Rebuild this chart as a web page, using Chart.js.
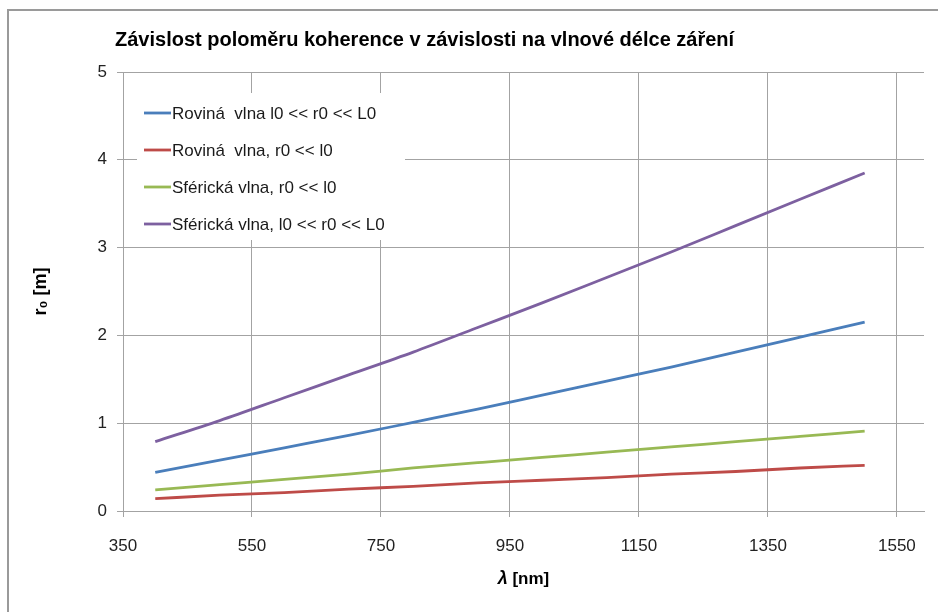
<!DOCTYPE html>
<html>
<head>
<meta charset="utf-8">
<script src="https://cdn.jsdelivr.net/npm/chart.js@4.4.1/dist/chart.umd.min.js"></script>
<style>
  html, body { margin: 0; padding: 0; background: #fff; }
  #wrap { position: relative; width: 938px; height: 612px; overflow: hidden; }
  #frame { position: absolute; left: 7px; top: 9px; width: 940px; height: 620px; border-left: 2px solid #9a9a9a; border-top: 2px solid #9a9a9a; }
  #title { position: absolute; left: 115px; top: 28px; font: bold 20px "Liberation Sans", Arial, sans-serif; color: #000; white-space: nowrap; }
  canvas { position: absolute; left: 0; top: 0; }
</style>
</head>
<body>
<div id="wrap">
  <div id="frame"></div>
  <canvas id="c" width="938" height="612"></canvas>
  <div id="title">Závislost poloměru koherence v závislosti na vlnové délce záření</div>
</div>
<script>
// vlnove delky [nm]
var lambdas = [400, 500, 600, 700, 800, 900, 1000, 1100, 1200, 1300, 1400, 1500];
// polomer koherence r0 [m]
var rovinaTurb = [0.44, 0.58, 0.72, 0.86, 1.01, 1.16, 1.32, 1.48, 1.64, 1.81, 1.98, 2.15];
var rovinaMala = [0.14, 0.18, 0.21, 0.25, 0.28, 0.32, 0.35, 0.38, 0.42, 0.45, 0.49, 0.52];
var sferMala = [0.24, 0.30, 0.36, 0.42, 0.49, 0.55, 0.61, 0.67, 0.73, 0.79, 0.85, 0.91];
var sferTurb = [0.79, 1.03, 1.29, 1.55, 1.81, 2.09, 2.37, 2.66, 2.95, 3.25, 3.55, 3.85];

var seriesNames = ['Roviná  vlna l0 << r0 << L0', 'Roviná  vlna, r0 << l0', 'Sférická vlna, r0 << l0', 'Sférická vlna, l0 << r0 << L0'];
var seriesColors = ['#4a7ebb', '#be4b48', '#98b954', '#7d60a0'];
var xTicks = [350, 550, 750, 950, 1150, 1350, 1550];
var yTicks = [0, 1, 2, 3, 4, 5];

var font = '"Liberation Sans", Arial, sans-serif';
var gridCol = '#a3a3a3';

function pts(ys) {
  return ys.map(function (y, i) { return { x: lambdas[i], y: y }; });
}

var allSeries = [rovinaTurb, rovinaMala, sferMala, sferTurb];
var datasets = allSeries.map(function (s, i) {
  return {
    label: seriesNames[i],
    data: pts(s),
    borderColor: seriesColors[i],
    backgroundColor: seriesColors[i],
    borderWidth: 2.8,
    pointRadius: 0,
    cubicInterpolationMode: 'monotone',
    fill: false
  };
});

// legenda uvnitr grafu (jako v Excelu) + popis osy x s kurzivou lambda
var extras = {
  id: 'extras',
  afterDraw: function (chart) {
    var ctx = chart.ctx, a = chart.chartArea;
    var x0 = a.left + 14, y0 = a.top + 21;
    ctx.save();
    ctx.fillStyle = '#fff';
    ctx.fillRect(x0, y0, 268, 147);
    ctx.font = '17px ' + font;
    ctx.textBaseline = 'middle';
    chart.data.datasets.forEach(function (d, i) {
      var y = y0 + 20 + i * 37;
      ctx.strokeStyle = d.borderColor;
      ctx.lineWidth = 2.8;
      ctx.beginPath();
      ctx.moveTo(x0 + 7, y);
      ctx.lineTo(x0 + 34, y);
      ctx.stroke();
      ctx.fillStyle = '#1a1a1a';
      ctx.fillText(d.label, x0 + 35, y + 1);
    });

    // λ [nm]
    var lam = 'λ', rest = ' [nm]';
    ctx.fillStyle = '#000';
    ctx.textBaseline = 'middle';
    ctx.font = 'italic bold 18px ' + font;
    var w1 = ctx.measureText(lam).width;
    ctx.font = 'bold 17px ' + font;
    var w2 = ctx.measureText(rest).width;
    var cx = (a.left + a.right) / 2 - (w1 + w2) / 2;
    var cy = 579;
    ctx.font = 'italic bold 18px ' + font;
    ctx.fillText(lam, cx, cy);
    ctx.font = 'bold 17px ' + font;
    ctx.fillText(rest, cx + w1, cy);
    ctx.restore();
  }
};

new Chart(document.getElementById('c'), {
  type: 'line',
  data: { datasets: datasets },
  plugins: [extras],
  options: {
    responsive: false,
    animation: false,
    layout: { padding: { left: 30, right: 14, top: 72, bottom: 22 } },
    plugins: { legend: { display: false }, tooltip: { enabled: false } },
    scales: {
      x: {
        type: 'linear',
        min: 350,
        max: 1592,
        afterBuildTicks: function (ax) { ax.ticks = xTicks.map(function (v) { return { value: v }; }); },
        afterFit: function (ax) { ax.height = 79; },
        grid: { color: gridCol, tickLength: 6 },
        border: { color: gridCol },
        ticks: { color: '#222', font: { family: font, size: 17 }, padding: 19, maxRotation: 0, callback: function (v) { return String(v); } },
        title: { display: false }
      },
      y: {
        min: 0,
        max: 5,
        afterBuildTicks: function (ax) { ax.ticks = yTicks.map(function (v) { return { value: v }; }); },
        afterFit: function (ax) { ax.width = 93; },
        grid: { color: gridCol, tickLength: 6 },
        border: { color: gridCol },
        ticks: { color: '#222', font: { family: font, size: 17 }, padding: 10 },
        title: { display: true, text: 'r₀ [m]', color: '#000', font: { family: font, size: 18, weight: 'bold' }, padding: 0 }
      }
    }
  }
});
</script>
</body>
</html>
